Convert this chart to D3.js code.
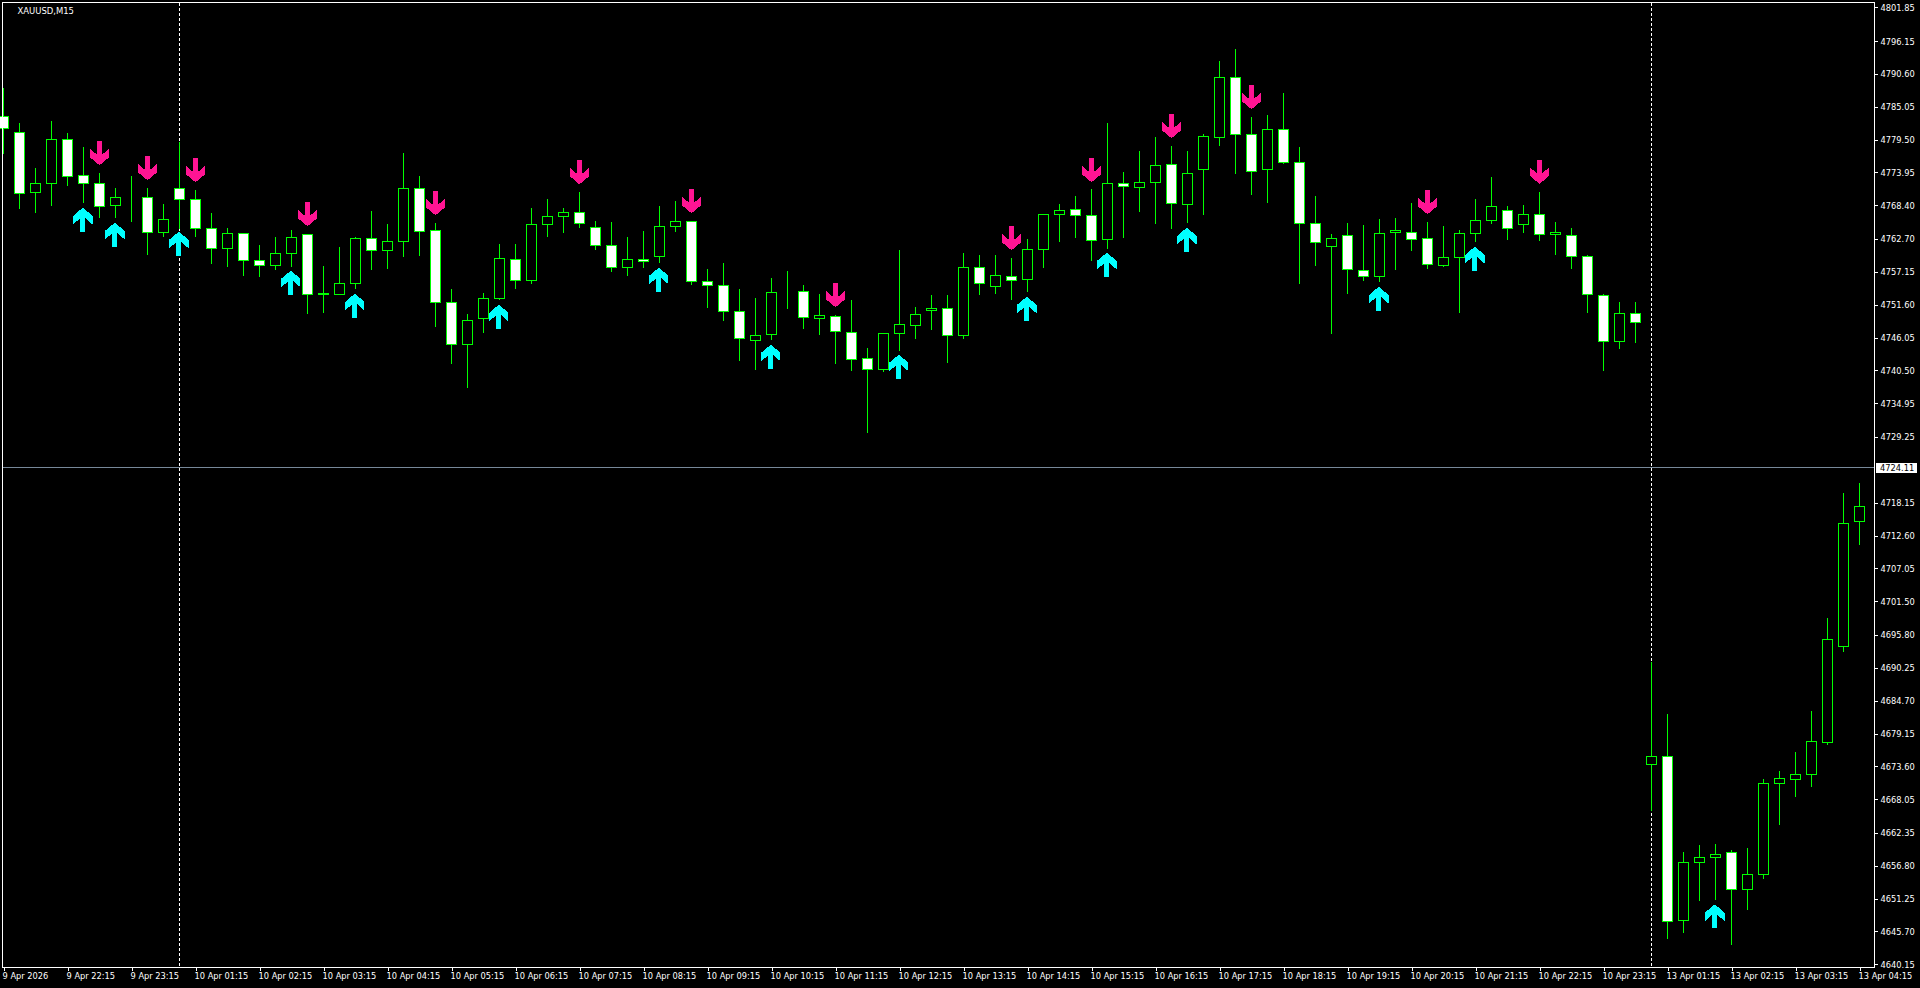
<!DOCTYPE html>
<html>
<head>
<meta charset="utf-8">
<script src="https://cdn.jsdelivr.net/npm/d3@7"></script>
<style>
html,body{margin:0;padding:0;background:#000;overflow:hidden}
svg{display:block}
text{font-family:"DejaVu Sans Condensed","DejaVu Sans",sans-serif;font-stretch:condensed;fill:#fff}
</style>
</head>
<body>
<svg id="c" width="1920" height="988"></svg>
<script>
const symbolName = "XAUUSD,M15";
const currentPrice = 4724.11;
const separatorBars = [11, 103];

const opens = [4783.38,4780.67,4770.54,4772.11,4779.49,4773.41,4772.06,4768.40,4769.75,4769.69,
4763.83,4771.21,4769.35,4764.45,4761.13,4763.61,4759.05,4758.26,4760.23,4763.44,
4753.47,4753.36,4755.22,4762.76,4760.79,4762.31,4771.21,4764.12,4751.95,4744.91,
4749.30,4752.63,4759.22,4755.67,4765.13,4766.48,4767.16,4764.62,4761.58,4757.87,
4759.22,4759.72,4764.79,4765.64,4755.50,4754.82,4750.43,4745.53,4746.54,4753.75,
4753.81,4749.25,4749.59,4746.88,4742.49,4740.63,4746.71,4748.07,4750.60,4750.94,
4746.38,4757.92,4754.65,4756.34,4755.89,4760.91,4766.88,4767.66,4766.71,4762.60,
4772.06,4771.44,4772.23,4775.27,4768.57,4774.48,4779.89,4789.97,4780.34,4774.48,
4781.18,4775.61,4765.30,4761.41,4763.27,4757.36,4756.40,4763.83,4763.78,4762.76,
4758.26,4759.61,4763.61,4765.81,4767.50,4765.13,4766.82,4763.44,4763.27,4759.72,
4753.13,4745.42,4750.09,4673.95,4675.24,4647.59,4657.39,4658.24,4659.02,4652.83,
4655.31,4670.74,4671.41,4672.26,4677.61,4693.89,4715.01];

const closes = [4781.41,4770.42,4772.11,4779.49,4773.30,4772.11,4768.23,4769.69,4769.75,4763.83,
4765.98,4769.41,4764.51,4761.13,4763.61,4759.10,4758.26,4760.23,4762.93,4753.36,
4753.31,4755.16,4762.76,4760.79,4762.26,4771.21,4764.00,4752.01,4744.91,4748.91,
4752.63,4759.39,4755.67,4765.19,4766.48,4767.16,4765.30,4761.58,4757.87,4759.22,
4758.88,4764.79,4765.64,4755.50,4754.82,4750.43,4745.87,4746.38,4753.64,4753.75,
4749.42,4749.75,4747.05,4742.32,4740.63,4746.71,4748.23,4749.92,4750.94,4746.38,
4757.92,4755.22,4756.51,4755.72,4760.91,4766.88,4767.55,4766.71,4762.48,4772.06,
4771.61,4772.23,4775.10,4768.73,4773.75,4780.00,4789.97,4780.39,4774.14,4781.18,
4775.66,4765.36,4762.15,4762.76,4757.58,4756.40,4763.61,4764.17,4762.65,4758.43,
4759.56,4763.61,4765.81,4768.17,4764.51,4766.82,4763.50,4763.83,4759.78,4753.36,
4745.42,4750.09,4748.63,4675.24,4647.42,4657.33,4658.18,4658.74,4652.83,4655.31,
4670.74,4671.58,4672.26,4677.78,4695.01,4714.61,4717.48];

const highs = [4788.17,4782.25,4774.65,4782.59,4780.56,4778.20,4773.80,4771.27,4773.30,4771.27,
4768.57,4778.99,4770.93,4767.05,4764.51,4763.67,4761.64,4762.99,4764.17,4763.50,
4758.09,4761.30,4762.99,4767.38,4765.19,4777.18,4773.30,4765.36,4754.20,4749.98,
4753.53,4761.81,4761.81,4767.89,4769.41,4767.89,4770.59,4765.69,4765.52,4762.99,
4764.00,4768.23,4769.07,4765.69,4757.58,4758.60,4754.20,4752.68,4756.06,4757.25,
4754.88,4753.36,4749.81,4752.35,4744.24,4746.77,4760.79,4751.16,4753.19,4753.19,
4760.29,4759.95,4759.95,4759.44,4762.65,4766.88,4768.57,4769.92,4771.10,4782.25,
4773.97,4777.52,4779.89,4778.37,4777.52,4780.39,4792.73,4794.75,4783.27,4783.60,
4787.32,4778.20,4769.92,4763.50,4765.36,4765.02,4766.03,4766.20,4768.73,4765.52,
4764.85,4764.17,4769.41,4773.13,4768.23,4768.40,4770.59,4765.52,4764.51,4759.89,
4753.30,4752.01,4752.01,4691.18,4682.40,4659.08,4660.26,4660.43,4659.42,4659.76,
4671.41,4672.77,4675.98,4682.90,4698.62,4719.74,4721.43];

const lows = [4777.18,4767.83,4767.16,4768.34,4771.72,4768.85,4766.31,4766.31,4765.64,4760.06,
4763.10,4764.51,4763.10,4758.54,4758.03,4756.51,4756.34,4757.53,4757.98,4750.09,
4750.26,4753.36,4754.32,4757.53,4757.70,4759.72,4759.89,4747.90,4741.64,4737.59,
4746.88,4752.40,4754.32,4755.16,4763.10,4763.78,4764.62,4760.91,4757.19,4756.51,
4757.87,4758.71,4763.95,4754.99,4751.11,4748.91,4742.15,4740.63,4745.70,4750.94,
4747.56,4746.54,4741.64,4740.46,4729.99,4740.29,4743.84,4745.87,4747.39,4741.81,
4745.81,4753.30,4753.47,4752.46,4753.81,4757.87,4762.26,4762.93,4759.05,4761.08,
4762.93,4767.33,4765.30,4764.45,4765.47,4766.82,4778.48,4773.75,4770.20,4768.85,
4775.44,4755.16,4758.20,4746.71,4753.47,4755.67,4755.50,4757.53,4760.74,4757.70,
4758.03,4750.26,4762.26,4765.30,4762.60,4763.78,4762.43,4760.06,4757.70,4750.26,
4740.46,4744.18,4745.19,4666.06,4644.49,4645.51,4650.91,4651.08,4643.48,4649.39,
4654.63,4663.75,4668.49,4670.17,4677.21,4692.99,4711.06];

const upArrowBars   = [5,7,11,18,22,31,41,48,56,64,69,74,86,92,107];
const upArrowPrices = [4768.00,4765.47,4763.95,4757.36,4753.47,4751.61,4757.87,4744.86,4743.17,4752.97,4760.40,4764.62,4754.65,4761.41,4650.29];
const downArrowBars   = [6,9,12,19,27,36,43,52,63,68,73,78,89,96];
const downArrowPrices = [4775.16,4772.62,4772.28,4764.85,4766.71,4771.94,4767.05,4751.16,4760.79,4772.28,4779.72,4784.62,4766.88,4772.00];

const priceTicks = [4801.85,4796.15,4790.60,4785.05,4779.50,4773.95,4768.40,4762.70,4757.15,4751.60,4746.05,4740.50,4734.95,4729.25,
4718.15,4712.60,4707.05,4701.50,4695.80,4690.25,4684.70,4679.15,4673.60,4668.05,4662.35,4656.80,4651.25,4645.70,4640.15];

const timeLabels = ["9 Apr 2026","9 Apr 22:15","9 Apr 23:15",
"10 Apr 01:15","10 Apr 02:15","10 Apr 03:15","10 Apr 04:15","10 Apr 05:15","10 Apr 06:15","10 Apr 07:15","10 Apr 08:15",
"10 Apr 09:15","10 Apr 10:15","10 Apr 11:15","10 Apr 12:15","10 Apr 13:15","10 Apr 14:15","10 Apr 15:15","10 Apr 16:15",
"10 Apr 17:15","10 Apr 18:15","10 Apr 19:15","10 Apr 20:15","10 Apr 21:15","10 Apr 22:15","10 Apr 23:15",
"13 Apr 01:15","13 Apr 02:15","13 Apr 03:15","13 Apr 04:15"];
const timeLabelStep = 4;

/* ---------- drawing ---------- */
const GREEN = "#00ff00", PINK = "#ff1493", AQUA = "#00ffff", SLATE = "#778899";
const L = 2.5, T = 2.5, R = 1874.5, B = 967.5;
const barStep = 16, halfBody = 5;
const FONT = '"DejaVu Sans Condensed","DejaVu Sans",sans-serif';
const FSIZE = "9.2px";

const x = d3.scaleLinear().domain([0, 1]).range([3.5, 3.5 + barStep]);
const y = d3.scaleLinear().domain([4801.85, 4640.15]).range([7.33, 964.33]);
const py = v => Math.floor(y(v)) + 0.5;

const svg = d3.select("#c");
svg.append("rect").attr("width", 1920).attr("height", 988).attr("fill", "#000");

const crisp = svg.append("g").attr("shape-rendering", "crispEdges");

// period separators
crisp.append("g").selectAll("line").data(separatorBars).join("line")
  .attr("x1", d => x(d)).attr("x2", d => x(d))
  .attr("y1", T).attr("y2", B)
  .attr("stroke", "#fff").attr("stroke-dasharray", "3 2");

// current price line
crisp.append("line").attr("x1", L).attr("x2", R)
  .attr("y1", py(currentPrice)).attr("y2", py(currentPrice))
  .attr("stroke", SLATE);

// candles
const bars = d3.range(opens.length).map(i => ({
  i, o: opens[i], c: closes[i], h: highs[i], l: lows[i]
}));
const gBars = crisp.append("g");
gBars.selectAll("line.w").data(bars).join("line").attr("class", "w")
  .attr("x1", d => x(d.i)).attr("x2", d => x(d.i))
  .attr("y1", d => py(d.h) - 0.5).attr("y2", d => py(d.l) + 0.5)
  .attr("stroke", GREEN);
gBars.selectAll("rect.b").data(bars).join("rect").attr("class", "b")
  .attr("x", d => x(d.i) - halfBody)
  .attr("width", halfBody * 2)
  .attr("y", d => py(Math.max(d.o, d.c)))
  .attr("height", d => py(Math.min(d.o, d.c)) - py(Math.max(d.o, d.c)))
  .attr("fill", d => d.c >= d.o ? "#000" : "#fff")
  .attr("stroke", GREEN);

// arrows
const arrowShape = [[-2.5,24],[2.5,24],[2.5,10.5],[9.7,16.7],[9.7,8.2],[0,0],[-9.7,8.2],[-9.7,16.7],[-2.5,10.5]];
const downPath = d3.line()(arrowShape.map(p => [p[0], -p[1]])) + "Z";
const upPath = d3.line()(arrowShape) + "Z";
const gArrows = svg.append("g").attr("shape-rendering", "crispEdges");
gArrows.append("g").selectAll("path").data(upArrowBars).join("path")
  .attr("d", upPath).attr("fill", AQUA)
  .attr("transform", (d, k) => `translate(${x(d) - 0.7},${y(upArrowPrices[k])})`);
gArrows.append("g").selectAll("path").data(downArrowBars).join("path")
  .attr("d", downPath).attr("fill", PINK)
  .attr("transform", (d, k) => `translate(${x(d)},${y(downArrowPrices[k])})`);

// frame
crisp.append("rect").attr("x", L).attr("y", T).attr("width", R - L).attr("height", B - T)
  .attr("fill", "none").attr("stroke", "#fff");

// price axis
const axY = d3.axisRight(y).tickValues(priceTicks).tickFormat(d3.format(".2f")).tickSize(3).tickPadding(3);
const gy = svg.append("g").attr("transform", `translate(${R},0)`).call(axY);
gy.select(".domain").remove();
gy.selectAll(".tick line").attr("stroke", "#fff").attr("shape-rendering", "crispEdges");
gy.selectAll(".tick text").attr("fill", "#fff").style("font-family", FONT).style("font-size", FSIZE);

// time axis
const timeIdx = timeLabels.map((_, k) => k * timeLabelStep);
const axX = d3.axisBottom(x).tickValues(timeIdx).tickFormat((d, k) => timeLabels[k]).tickSize(3).tickPadding(2);
const gx = svg.append("g").attr("transform", `translate(0,${B})`).call(axX);
gx.select(".domain").remove();
gx.selectAll(".tick line").attr("stroke", "#fff").attr("shape-rendering", "crispEdges");
gx.selectAll(".tick text").attr("fill", "#fff").attr("text-anchor", "start").attr("dx", -1.5)
  .style("font-family", FONT).style("font-size", FSIZE);

// current price tag
svg.append("rect").attr("x", 1876).attr("y", 463).attr("width", 41).attr("height", 10).attr("fill", "#fff");
svg.append("text").attr("x", 1880).attr("y", py(currentPrice) + 3.5)
  .style("fill", "#000").style("font-family", FONT).style("font-size", FSIZE).text(currentPrice.toFixed(2));

// title
svg.append("text").attr("x", 17.5).attr("y", 14).style("font-family", FONT).style("font-size", "9.4px").text(symbolName);
</script>
</body>
</html>
